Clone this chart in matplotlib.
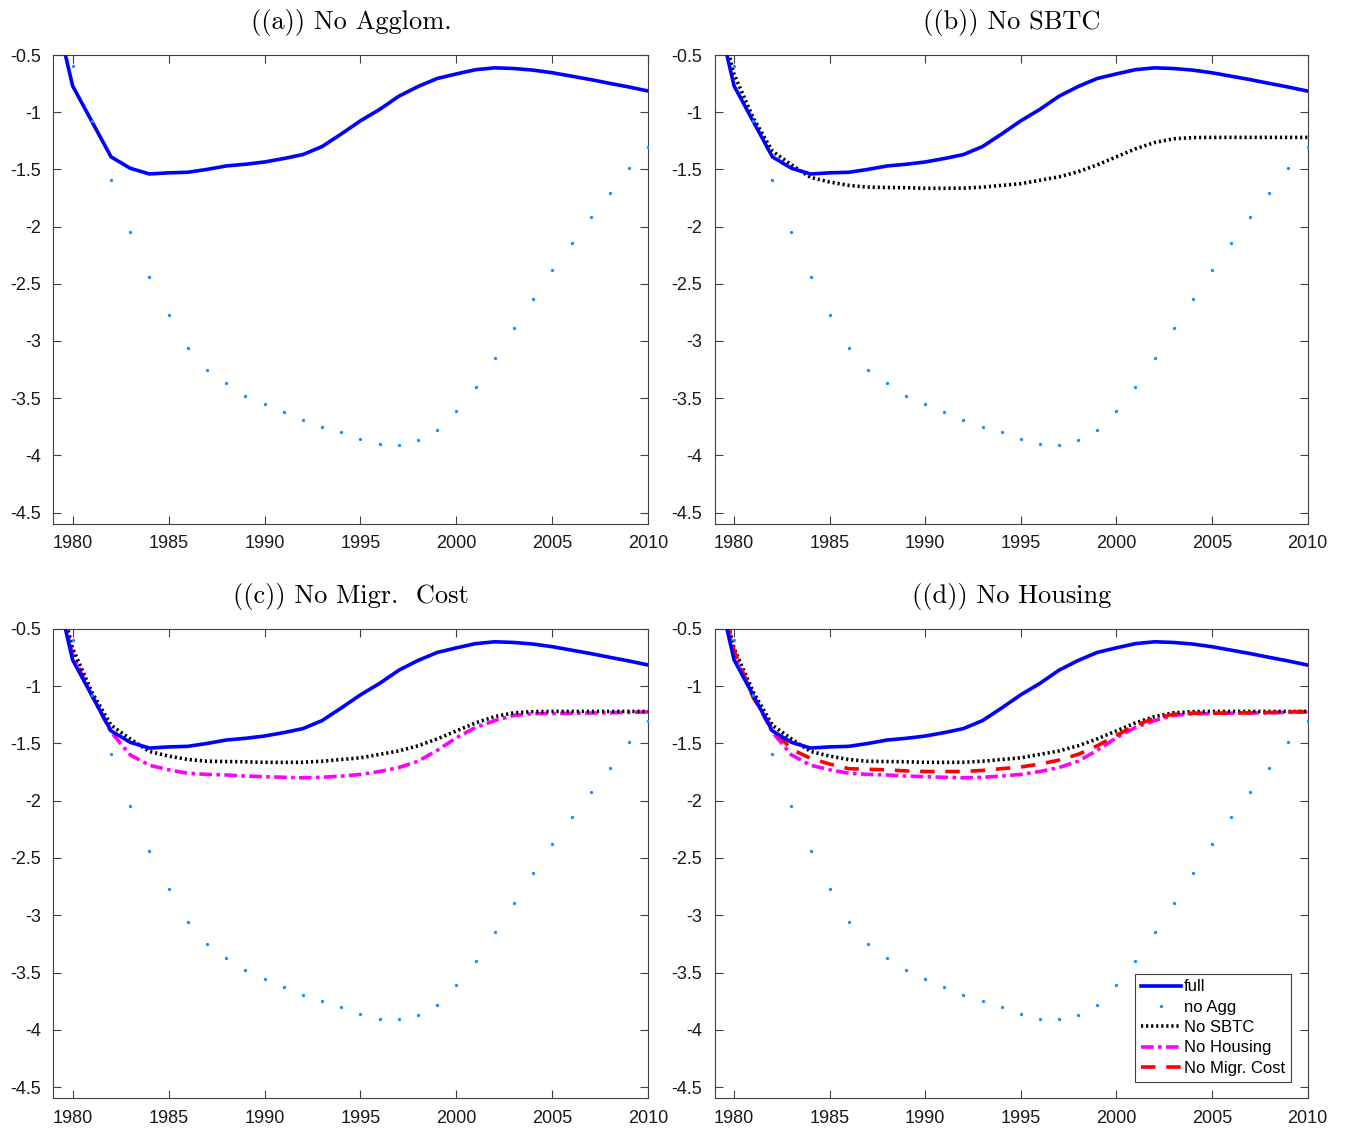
import matplotlib

matplotlib.use("Agg")
import matplotlib.pyplot as plt
import numpy as np

years = np.arange(1979, 2011)

full = [-0.05, -0.77, -1.08, -1.39, -1.49, -1.54, -1.53, -1.525, -1.50, -1.47,
        -1.455, -1.435, -1.405, -1.37, -1.30, -1.19, -1.075, -0.975, -0.86, -0.775,
        -0.705, -0.665, -0.628, -0.612, -0.618, -0.632, -0.655, -0.685, -0.715, -0.748,
        -0.78, -0.815]
no_agg = [-0.1, -0.6, -1.08, -1.59, -2.05, -2.44, -2.77, -3.06, -3.25, -3.37,
          -3.48, -3.555, -3.625, -3.695, -3.75, -3.80, -3.86, -3.905, -3.91, -3.87,
          -3.78, -3.61, -3.40, -3.15, -2.89, -2.63, -2.38, -2.145, -1.92, -1.71,
          -1.49, -1.305]
no_sbtc = [0.0, -0.67, -1.05, -1.34, -1.46, -1.57, -1.61, -1.64, -1.655, -1.658,
           -1.66, -1.665, -1.665, -1.664, -1.655, -1.64, -1.625, -1.595, -1.565, -1.52,
           -1.46, -1.39, -1.32, -1.265, -1.232, -1.222, -1.22, -1.22, -1.22, -1.22,
           -1.22, -1.22]
no_housing = [0.0, -0.72, -1.08, -1.40, -1.60, -1.69, -1.73, -1.76, -1.77, -1.775,
              -1.785, -1.79, -1.795, -1.80, -1.795, -1.785, -1.77, -1.745, -1.71, -1.655,
              -1.56, -1.45, -1.36, -1.30, -1.255, -1.24, -1.238, -1.236, -1.234, -1.232,
              -1.228, -1.225]
no_migr = [0.0, -0.69, -1.10, -1.37, -1.55, -1.63, -1.68, -1.72, -1.725, -1.73,
           -1.74, -1.745, -1.745, -1.745, -1.735, -1.72, -1.705, -1.68, -1.645, -1.595,
           -1.52, -1.43, -1.34, -1.28, -1.245, -1.235, -1.235, -1.235, -1.232, -1.23,
           -1.225, -1.22]

titles = ["((a)) No Agglom.", "((b)) No SBTC", "((c)) No Migr.  Cost", "((d)) No Housing"]

AX_COLOR = "#404040"

plt.rcParams.update({
    "font.family": ["Liberation Sans", "DejaVu Sans"],
    "font.size": 13,
})

fig = plt.figure(figsize=(13.46, 11.3), dpi=100)
positions = [
    [0.0397, 0.5363, 0.4420, 0.4150],
    [0.5312, 0.5363, 0.4402, 0.4150],
    [0.0397, 0.0279, 0.4420, 0.4155],
    [0.5312, 0.0279, 0.4402, 0.4155],
]

for i, pos in enumerate(positions):
    ax = fig.add_axes(pos)
    h_full, = ax.plot(years, full, color="#0000FF", lw=2.6, label="full", zorder=5)
    h_agg, = ax.plot(years, no_agg, ls="none", marker="o", ms=2.4, mew=0,
                     color="#1A8CFF", label="no Agg", zorder=6)
    handles = [h_full, h_agg]
    if i >= 1:
        h_sbtc, = ax.plot(years, no_sbtc, color="black", lw=2.6, ls=(0, (0.6, 0.8)),
                          label="No SBTC", zorder=4)
        handles.append(h_sbtc)
    if i >= 2:
        h_house, = ax.plot(years, no_housing, color="#FF00FF", lw=2.6,
                           ls=(0, (3.5, 1.2, 1, 1.2)), label="No Housing", zorder=3)
        handles.append(h_house)
    if i == 3:
        h_migr, = ax.plot(years, no_migr, color="#FF0000", lw=2.6, ls=(0, (4, 3)),
                          label="No Migr. Cost", zorder=4)
        handles.append(h_migr)
        leg = ax.legend(handles=handles, loc="lower right", bbox_to_anchor=(0.972, 0.036),
                        fontsize=12, frameon=True, fancybox=False, framealpha=1,
                        edgecolor=AX_COLOR, handlelength=2.4, handletextpad=0.2,
                        borderpad=0.35, labelspacing=0.32, borderaxespad=0.0)
        leg.get_frame().set_linewidth(0.8)

    ax.set_xlim(1979, 2010)
    ax.set_ylim(-4.6, -0.5)
    ax.set_xticks(np.arange(1980, 2011, 5))
    ax.set_yticks(np.arange(-4.5, -0.4, 0.5))
    ax.set_yticklabels(["-4.5", "-4", "-3.5", "-3", "-2.5", "-2", "-1.5", "-1", "-0.5"])
    ax.tick_params(direction="in", top=True, right=True, length=6, width=0.8,
                   colors=AX_COLOR, labelcolor="#1a1a1a", labelsize=13)
    ax.tick_params(axis="x", pad=8)
    ax.tick_params(axis="y", pad=9)
    for s in ax.spines.values():
        s.set_color(AX_COLOR)
        s.set_linewidth(0.8)
    ax.set_title(titles[i], family="cmr10", fontsize=19, pad=19)

fig.savefig("out.png", dpi=100)
